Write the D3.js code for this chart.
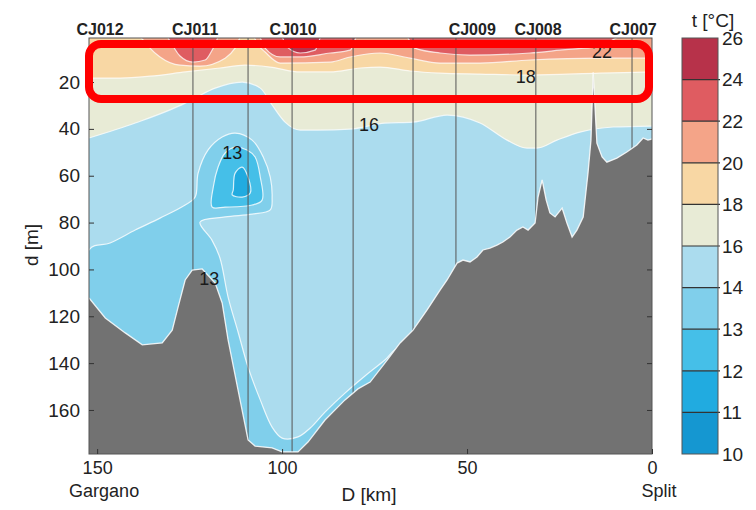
<!DOCTYPE html>
<html>
<head>
<meta charset="utf-8">
<script src="https://cdn.jsdelivr.net/npm/d3@7"></script>
<style>
  body { margin: 0; background: #fff; }
  svg { display: block; font-family: "Liberation Sans", Arial, sans-serif; }
</style>
</head>
<body>
<svg id="chart" width="756" height="510"></svg>
<script>
// temperature levels of the filled contours and their colours
var levels = [10, 11, 12, 13, 14, 16, 18, 20, 22, 24, 26];
var levelColors = ['#1597d1', '#21abe0', '#45bfe8', '#80cfeb', '#abdcee', '#e8ebd6', '#f8d7a4', '#f4a488', '#df5c61', '#b7324a'];

// isotherm depths [km, depth m] along the section (depth 0 = isotherm outcrops at surface)
var iso16 = [[152.2, 43.9], [139.7, 37.5], [126.2, 29.0], [123.5, 26.8], [118.1, 22.6], [110.8, 20.0], [105.9, 22.6],
  [102.7, 29.8], [99.2, 37.1], [95.1, 40.5], [90.3, 40.5], [81.6, 40.1], [72.2, 37.5], [64.6, 37.1], [55.4, 34.1],
  [46.5, 37.5], [39.2, 44.8], [33.8, 48.2], [31.1, 48.2], [25.7, 44.8], [19.5, 41.4], [10.5, 39.2], [0, 38.8]];
var iso18 = [[152.2, 18.3], [143.8, 18.3], [135.7, 17.5], [126.2, 15.7], [116.8, 14.0], [110.0, 12.8], [103.2, 13.6],
  [95.1, 15.7], [87.0, 15.7], [78.9, 14.0], [73.5, 13.6], [65.4, 15.3], [57.3, 16.2], [46.5, 16.6], [33.0, 17.0],
  [14.1, 16.2], [0, 15.7]];
var iso20 = [[152.2, 0], [139.7, 0], [137.0, 2.9], [135.7, 5.5], [133.0, 9.3], [127.6, 12.8], [122.2, 13.2],
  [115.4, 9.8], [112.7, 5.5], [110.8, 0], [108.1, 0], [106.5, 4.2], [104.6, 7.2], [100.5, 11.9], [87.0, 11.5],
  [81.6, 9.3], [73.5, 7.6], [65.4, 9.8], [57.3, 11.9], [46.5, 11.9], [33.0, 10.6], [14.1, 9.8], [0, 9.8]];
var iso22 = [[152.2, 0], [131.6, 0], [129.7, 4.2], [127.6, 8.9], [124.1, 11.5], [120.8, 10.6], [118.6, 5.5],
  [116.8, 0], [106.5, 0], [104.6, 5.5], [100.5, 9.3], [95.1, 9.3], [87.0, 7.6], [81.6, 6.4], [79.5, 0],
  [66.8, 0], [64.1, 5.5], [57.3, 7.6], [49.2, 8.5], [33.0, 7.6], [24.9, 6.4], [14.1, 4.7], [7.3, 0], [0, 0]];
var iso24 = [[152.2, 0], [100.5, 0], [98.6, 5.1], [95.1, 7.6], [91.1, 6.4], [89.2, 0], [0, 0]];

// closed cold-water contours [km, depth m]
var cold14 = [[152.2, 91.7], [146.5, 88.7], [139.7, 83.2], [133.0, 78.1], [126.2, 72.5], [123.5, 69.1], [122.7, 58.9],
  [120.0, 49.0], [116.2, 43.5], [112.7, 41.8], [108.1, 44.8], [105.1, 52.0], [103.2, 60.6], [102.7, 69.1],
  [103.2, 74.6], [108.1, 76.4], [115.4, 77.6], [122.2, 79.8], [119.0, 87.4], [116.8, 95.1], [114.6, 111.8],
  [111.9, 126.7], [109.2, 141.7], [105.9, 155.7], [102.7, 167.3], [100.0, 172.0], [95.7, 171.5], [92.4, 167.7],
  [88.4, 160.9], [83.0, 152.8], [77.6, 145.5], [72.2, 138.7], [68.9, 134.0], [68.9, 186], [152.2, 186]];
var cold13 = [[118.9, 73.4], [118.6, 64.8], [117.3, 56.3], [115.4, 50.3], [112.7, 47.8], [109.5, 49.0], [107.3, 52.0],
  [105.9, 60.6], [105.4, 70.4], [108.1, 72.5], [115.4, 73.4]];
var cold12 = [[113.2, 66.1], [112.7, 58.9], [110.8, 56.3], [109.2, 60.6], [108.6, 67.4], [110.8, 69.1], [113.5, 68.2]];

// sea floor [km, depth m]
var seabed = [[152.2, 112.2], [147.8, 120.7], [142.4, 127.1], [137.8, 132.2], [132.4, 131.4], [129.7, 125.9],
  [128.1, 116.0], [126.2, 104.5], [124.3, 100.3], [121.6, 99.8], [118.1, 105.8], [116.2, 114.3], [114.6, 130.1],
  [111.9, 151.5], [109.2, 172.8], [107.3, 175.4], [102.7, 176.2], [100.0, 177.9], [95.7, 177.9], [93.0, 173.7],
  [88.4, 164.3], [83.0, 155.7], [79.5, 151.0], [76.2, 148.1], [71.6, 138.7], [68.1, 131.4], [64.6, 125.9],
  [60.8, 117.3], [57.3, 108.8], [55.4, 104.5], [52.7, 97.3], [51.1, 96.0], [49.2, 96.8], [47.3, 94.7],
  [45.7, 91.7], [43.8, 90.9], [41.9, 89.6], [40.3, 88.3], [38.4, 86.2], [36.5, 83.2], [34.9, 81.9], [33.5, 83.2],
  [31.6, 80.2], [30.8, 69.1], [29.7, 61.8], [28.6, 70.4], [27.6, 75.9], [26.2, 77.6], [24.3, 73.8],
  [23.0, 80.2], [21.6, 86.2], [20.3, 83.2], [18.6, 77.6], [17.3, 58.9], [16.5, 44.8], [15.9, 15.8], [14.9, 46.1],
  [13.5, 52.0], [12.2, 54.2], [9.5, 52.5], [6.8, 49.9], [4.1, 46.9], [2.4, 43.9], [1.1, 44.8], [0, 44.3]];

var stationKm = [124.1, 109.2, 97.3, 80.8, 64.6, 53.0, 31.4, 5.4];
var stationNames = ['CJ012', 'CJ011', 'CJ010', 'CJ009', 'CJ008', 'CJ007'];
var stationNameKm = [149.2, 123.5, 97.0, 48.6, 30.8, 5.1];

var contourLabels = ['13', '13', '16', '18', '22'];
var contourLabelKm = [113.5, 119.7, 76.5, 34.1, 13.5];
var contourLabelDepth = [49.9, 103.7, 38.0, 17.5, 6.8];

var xTicks = [150, 100, 50, 0];
var xTickPlaces = ['Gargano', '', '', 'Split'];
var yTicks = [20, 40, 60, 80, 100, 120, 140, 160];

var pLeft = 89, pRight = 652, pTop = 38, pBottom = 454;

var svg = d3.select('#chart');

var x = d3.scaleLinear().domain([152.2, 0]).range([pLeft, pRight]);
var y = d3.scaleLinear().domain([1.2, 178.8]).range([pTop, pBottom]);

svg.append('defs').append('clipPath').attr('id', 'plotclip')
  .append('rect').attr('x', pLeft).attr('y', pTop).attr('width', pRight - pLeft).attr('height', pBottom - pTop);

var plot = svg.append('g').attr('clip-path', 'url(#plotclip)');

// base water 14-16
plot.append('rect').attr('x', pLeft).attr('y', pTop).attr('width', pRight - pLeft).attr('height', pBottom - pTop)
  .attr('fill', levelColors[4]);

var warmArea = d3.area()
  .x(function (d) { return x(d[0]); })
  .y0(y(-5))
  .y1(function (d) { return y(d[1]); })
  .curve(d3.curveMonotoneX);
var isoLine = d3.line()
  .x(function (d) { return x(d[0]); })
  .y(function (d) { return y(d[1]); })
  .curve(d3.curveMonotoneX);
var blob = d3.line()
  .x(function (d) { return x(d[0]); })
  .y(function (d) { return y(d[1]); })
  .curve(d3.curveCatmullRomClosed.alpha(0.5));

var warm = [iso16, iso18, iso20, iso22, iso24];
warm.forEach(function (iso, i) {
  plot.append('path').attr('d', warmArea(iso)).attr('fill', levelColors[5 + i]);
});
[cold14, cold13, cold12].forEach(function (c, i) {
  plot.append('path').attr('d', blob(c)).attr('fill', levelColors[3 - i]);
});

// contour lines
warm.forEach(function (iso) {
  plot.append('path').attr('d', isoLine(iso)).attr('fill', 'none')
    .attr('stroke', '#fff').attr('stroke-opacity', 0.75).attr('stroke-width', 1.2);
});
[cold14, cold13, cold12].forEach(function (c) {
  plot.append('path').attr('d', blob(c)).attr('fill', 'none')
    .attr('stroke', '#fff').attr('stroke-opacity', 0.8).attr('stroke-width', 1.2);
});

// station casts
plot.selectAll('.cast').data(stationKm).enter().append('line')
  .attr('class', 'cast')
  .attr('x1', function (d) { return x(d); }).attr('x2', function (d) { return x(d); })
  .attr('y1', pTop).attr('y2', pBottom)
  .attr('stroke', '#555').attr('stroke-width', 1);

// sea floor
var floorArea = d3.area()
  .x(function (d) { return x(d[0]); })
  .y0(y(190))
  .y1(function (d) { return y(d[1]); });
plot.append('path').attr('d', floorArea(seabed)).attr('fill', '#727272');
plot.append('path').attr('d', d3.line().x(function (d) { return x(d[0]); }).y(function (d) { return y(d[1]); })(seabed))
  .attr('fill', 'none').attr('stroke', '#fff').attr('stroke-opacity', 0.85).attr('stroke-width', 1.3);

// contour labels
plot.selectAll('.clab').data(contourLabels).enter().append('text')
  .attr('class', 'clab')
  .attr('x', function (d, i) { return x(contourLabelKm[i]); })
  .attr('y', function (d, i) { return y(contourLabelDepth[i]); })
  .attr('dy', '0.36em')
  .attr('text-anchor', 'middle')
  .attr('font-size', 18).attr('fill', '#1a1a1a')
  .text(function (d) { return d; });

// frame
svg.append('rect').attr('x', pLeft).attr('y', pTop).attr('width', pRight - pLeft).attr('height', pBottom - pTop)
  .attr('fill', 'none').attr('stroke', '#555').attr('stroke-width', 1);

// y axis (ticks inside, labels outside)
var yAxis = d3.axisLeft(y).tickValues(yTicks).tickSizeInner(-5).tickSizeOuter(0).tickPadding(9);
var gy = svg.append('g').attr('transform', 'translate(' + pLeft + ',0)').call(yAxis);
gy.select('.domain').remove();
gy.selectAll('line').attr('stroke', '#333');
gy.selectAll('text').attr('font-size', 19).attr('fill', '#222').attr('font-family', '"Liberation Sans", Arial, sans-serif');

var gyR = svg.append('g').attr('transform', 'translate(' + pRight + ',0)')
  .call(d3.axisRight(y).tickValues(yTicks).tickSizeInner(-5).tickSizeOuter(0).tickFormat(''));
gyR.select('.domain').remove();
gyR.selectAll('line').attr('stroke', '#333');

// x axis
var xAxis = d3.axisBottom(x).tickValues(xTicks).tickSizeInner(-5).tickSizeOuter(0).tickPadding(7);
var gx = svg.append('g').attr('transform', 'translate(0,' + pBottom + ')').call(xAxis);
gx.select('.domain').remove();
gx.selectAll('line').attr('stroke', '#333');
gx.selectAll('text').attr('font-size', 18).attr('fill', '#222').attr('font-family', '"Liberation Sans", Arial, sans-serif');

svg.selectAll('.place').data(xTickPlaces).enter().append('text')
  .attr('class', 'place')
  .attr('x', function (d, i) { return x(xTicks[i]) + 7; })
  .attr('y', 497)
  .attr('text-anchor', 'middle')
  .attr('font-size', 18).attr('fill', '#222')
  .text(function (d) { return d; });

svg.append('text').attr('x', 369).attr('y', 501).attr('text-anchor', 'middle')
  .attr('font-size', 19).attr('fill', '#222').text('D [km]');
svg.append('text').attr('transform', 'translate(38,245) rotate(-90)').attr('text-anchor', 'middle')
  .attr('font-size', 19).attr('fill', '#222').text('d [m]');

// station names
svg.selectAll('.stn').data(stationNames).enter().append('text')
  .attr('class', 'stn')
  .attr('x', function (d, i) { return x(stationNameKm[i]); })
  .attr('y', 35)
  .attr('text-anchor', 'middle')
  .attr('font-size', 16).attr('font-weight', 'bold').attr('fill', '#222')
  .text(function (d) { return d; });

// colorbar
var cbLeft = 682, cbWidth = 36;
var cb = d3.scalePoint().domain(levels.slice().reverse()).range([pTop, pBottom]);
var bands = d3.range(levels.length - 1);
svg.selectAll('.band').data(bands).enter().append('rect')
  .attr('class', 'band')
  .attr('x', cbLeft).attr('width', cbWidth)
  .attr('y', function (i) { return cb(levels[i + 1]); })
  .attr('height', function (i) { return cb(levels[i]) - cb(levels[i + 1]); })
  .attr('fill', function (i) { return levelColors[i]; });
svg.selectAll('.cbline').data(levels.slice(1, -1)).enter().append('line')
  .attr('class', 'cbline')
  .attr('x1', cbLeft).attr('x2', cbLeft + cbWidth + 2)
  .attr('y1', function (d) { return cb(d); }).attr('y2', function (d) { return cb(d); })
  .attr('stroke', '#333').attr('stroke-width', 1.2);
svg.append('rect').attr('x', cbLeft).attr('y', pTop).attr('width', cbWidth).attr('height', pBottom - pTop)
  .attr('fill', 'none').attr('stroke', '#555').attr('stroke-width', 1);
svg.selectAll('.cblab').data(levels).enter().append('text')
  .attr('class', 'cblab')
  .attr('x', cbLeft + cbWidth + 4)
  .attr('y', function (d) { return cb(d); })
  .attr('dy', '0.36em')
  .attr('font-size', 19).attr('fill', '#222')
  .text(function (d) { return d; });
svg.append('text').attr('x', 713).attr('y', 27).attr('text-anchor', 'middle')
  .attr('font-size', 19).attr('fill', '#222').text('t [°C]');

// highlight box
svg.append('rect').attr('x', 89).attr('y', 44).attr('width', 560).attr('height', 55).attr('rx', 12)
  .attr('fill', 'none').attr('stroke', '#ff0000').attr('stroke-width', 8);
</script>
</body>
</html>
